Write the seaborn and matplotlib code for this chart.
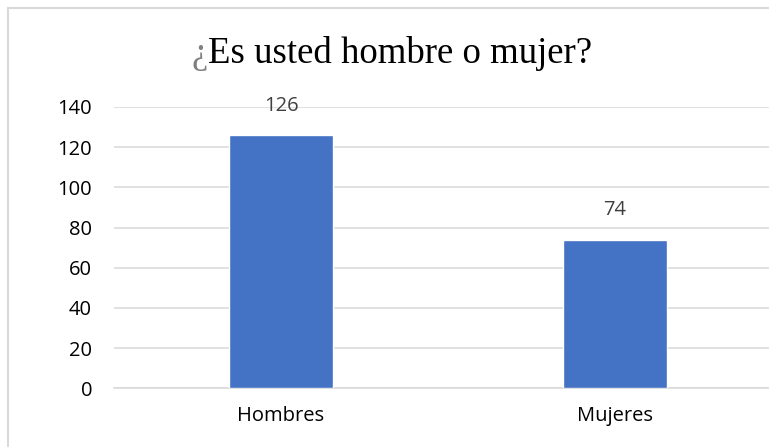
import matplotlib
matplotlib.use("Agg")
import matplotlib.pyplot as plt
from matplotlib.patches import Rectangle
import seaborn as sns
import pandas as pd

# Survey answers
categories = ["Hombres", "Mujeres"]
counts = [126, 74]
y_ticks = [0, 20, 40, 60, 80, 100, 120, 140]
title = "¿Es usted hombre o mujer?"

BAR_COLOR = "#4472C4"
GRID_COLOR = "#D9D9D9"
SANS = ["Open Sans", "DejaVu Sans"]
SERIF = ["Liberation Serif", "DejaVu Serif"]

sns.set_theme(style="white")
plt.rcParams["font.family"] = SANS

W, H = 769, 447
fig = plt.figure(figsize=(W / 100, H / 100), dpi=100)

# Plot area (extends slightly past the right edge of the canvas)
ax_left, ax_right = 114.3, 781.3
ax_top, ax_bottom = 106.9, 388.3
ax = fig.add_axes([ax_left / W, 1 - ax_bottom / H,
                   (ax_right - ax_left) / W, (ax_bottom - ax_top) / H])

df = pd.DataFrame({"categoria": categories, "n": counts})
sns.barplot(data=df, x="categoria", y="n", color=BAR_COLOR, saturation=1,
            width=0.312, ax=ax, zorder=3)

ax.set_xlim(-0.5, 1.5)
ax.set_ylim(0, 140)
ax.set_yticks(y_ticks)
ax.set_yticklabels([str(v) for v in y_ticks])
ax.set_xlabel("")
ax.set_ylabel("")
ax.grid(axis="y", color=GRID_COLOR, linewidth=1.1, zorder=0)
ax.grid(axis="x", visible=False)
for side in ["left", "right", "top"]:
    ax.spines[side].set_visible(False)
ax.spines["bottom"].set_color(GRID_COLOR)
ax.spines["bottom"].set_linewidth(1.1)
ax.tick_params(axis="y", length=0, pad=16, labelsize=14.5, labelcolor="#000000")
ax.tick_params(axis="x", length=0, pad=13, labelsize=14.5, labelcolor="#000000")

# Value labels above bars
for container in ax.containers:
    ax.bar_label(container, labels=[str(v) for v in counts], padding=14,
                 fontsize=14.5, color="#404040")

# Title: gray inverted question mark followed by the black text
TITLE_SIZE = 26.5
main = fig.text(392.7 / W + 0.009, 1 - 63.3 / H, title[1:], ha="center",
                va="baseline", fontsize=TITLE_SIZE, family=SERIF, color="#000000")
fig.canvas.draw()
bb = main.get_window_extent()
fig.text(bb.x0 / W, 1 - 63.3 / H, title[0], ha="right", va="baseline",
         fontsize=TITLE_SIZE, family=SERIF, color="#7F7F7F")

# Chart frame
fig.patches.append(Rectangle((8 / W, -0.1), 1.2, 1 - 8 / H + 0.1,
                             transform=fig.transFigure, fill=False,
                             edgecolor=GRID_COLOR, linewidth=1.5))

fig.savefig("out.png", dpi=100)
